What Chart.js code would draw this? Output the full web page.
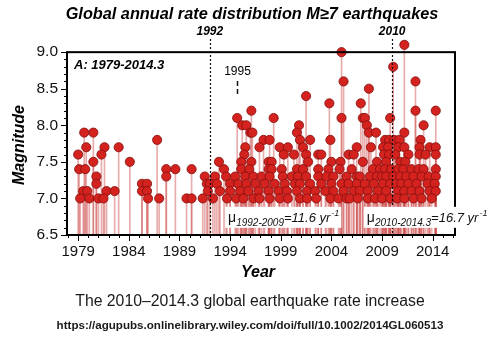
<!DOCTYPE html>
<html>
<head>
<meta charset="utf-8">
<script src="https://cdn.jsdelivr.net/npm/chart.js@4.4.0/dist/chart.umd.min.js"></script>
<style>
    html, body { margin: 0; padding: 0; background: #fff; }
    #wrap { width: 500px; height: 337px; }
</style>
</head>
<body>
<div id="wrap"><canvas id="quakeChart" width="500" height="337"></canvas></div>
<script>
// Event years (decimal) for each magnitude level
const m9_1 = [2011.2];
const m9_0 = [2005.0];
const m8_8 = [2010.1];
const m8_6 = [2005.2, 2012.3];
const m8_5 = [2007.7];
const m8_4 = [2001.5];
const m8_3 = [2003.8, 2006.9];
const m8_2 = [1996.1, 2012.3, 2014.3];
const m8_1 = [1994.7, 1998.3, 2005.0, 2007.1, 2007.3, 2009.8];
const m8_0 = [1995.2, 1995.6, 2000.8, 2007.5, 2013.1];
const m7_9 = [1979.6, 1980.5, 1996.0, 1996.2, 2000.6, 2007.7, 2008.4, 2011.2];
const m7_8 = [1986.8, 1997.3, 1997.9, 2000.9, 2001.9, 2003.9, 2009.3, 2009.7, 2010.2, 2010.7, 2012.8];
const m7_7 = [1979.8, 1981.6, 1983.0, 1995.5, 1996.9, 1998.9, 1999.7, 2001.2, 2006.5, 2007.9,
              2009.1, 2009.6, 2010.6, 2011.2, 2012.7, 2013.7, 2014.3];
const m7_6 = [1979.0, 1981.3, 1995.4, 1999.3, 2000.3, 2001.5, 2002.7, 2003.0, 2005.7, 2006.2,
              2009.2, 2009.7, 2010.3, 2011.6, 2012.7, 2013.3, 2014.3];
const m7_5 = [1980.5, 1984.1, 1992.9, 1995.1, 1996.1, 1997.8, 1998.1, 2001.7, 2004.0, 2004.9,
              2007.1, 2008.5, 2009.4, 2010.8, 2011.3];
const m7_4 = [1979.1, 1979.7, 1987.7, 1988.6, 1990.2, 1993.4, 1995.1, 1995.9, 1997.8, 1998.1,
              1999.1, 2000.6, 2001.2, 2002.7, 2003.7, 2004.8, 2006.0, 2008.1, 2008.8, 2009.3,
              2009.9, 2010.6, 2011.1, 2011.9, 2012.6, 2013.1, 2014.3];
const m7_3 = [1980.8, 1987.7, 1991.5, 1992.5, 1993.6, 1994.5, 1995.5, 1996.3, 1997.1, 1997.9,
              1999.2, 2000.1, 2000.7, 2001.5, 2002.7, 2003.5, 2004.2, 2005.5, 2006.5, 2006.8,
              2007.8, 2008.5, 2009.0, 2009.4, 2010.1, 2010.8, 2011.4, 2012.1, 2012.9, 2013.6, 2014.3];
const m7_2 = [1980.8, 1985.3, 1985.8, 1991.7, 1992.0, 1992.7, 1994.0, 1994.8, 1995.6, 1996.5,
              1997.4, 1998.4, 1999.4, 2000.4, 2000.9, 2001.9, 2003.0, 2004.0, 2005.0, 2005.7,
              2006.5, 2007.3, 2008.2, 2009.1, 2009.8, 2010.4, 2010.9, 2011.6, 2012.4, 2013.5, 2014.2];
const m7_1 = [1979.5, 1979.9, 1981.8, 1982.6, 1985.3, 1985.8, 1991.8, 1993.0, 1994.0, 1995.0,
              1995.8, 1996.8, 1997.8, 1998.8, 1999.6, 2000.6, 2001.6, 2002.4, 2003.4, 2004.2,
              2005.2, 2006.2, 2006.8, 2007.6, 2008.6, 2009.4, 2010.6, 2011.2, 2011.9, 2012.7,
              2013.7, 2014.3];
const m7_0 = [1979.2, 1980.1, 1981.0, 1981.5, 1985.9, 1987.0, 1989.7, 1990.2, 1991.3, 1992.3,
              1993.7, 1994.6, 1995.3, 1996.3, 1996.9, 1997.9, 1998.9, 1999.7, 2000.9, 2001.6,
              2002.5, 2003.9, 2004.7, 2005.5, 2005.8, 2006.6, 2007.6, 2008.3, 2009.0, 2009.8,
              2010.5, 2011.2, 2012.1, 2012.9, 2013.9];

const magLevels = [9.1, 9.0, 8.8, 8.6, 8.5, 8.4, 8.3, 8.2, 8.1, 8.0, 7.9, 7.8, 7.7, 7.6, 7.5, 7.4, 7.3, 7.2, 7.1, 7.0];
const yearsByLevel = [m9_1, m9_0, m8_8, m8_6, m8_5, m8_4, m8_3, m8_2, m8_1, m8_0, m7_9, m7_8,
                      m7_7, m7_6, m7_5, m7_4, m7_3, m7_2, m7_1, m7_0];

const xTickYears = [1979, 1984, 1989, 1994, 1999, 2004, 2009, 2014];
const yTickMags = [6.5, 7.0, 7.5, 8.0, 8.5, 9.0];
const markerYears = [1992, 2010];
const rateLabels = [
    { from: 1993.8, sub: '1992-2009', value: '=11.6 yr' },
    { from: 2007.5, sub: '2010-2014.3', value: '=16.7 yr' }
];

const quakes = [];
magLevels.forEach((mag, i) => {
    yearsByLevel[i].forEach(yr => quakes.push({ x: yr, y: mag }));
});

const FONT = '"Liberation Sans", Arial, Helvetica, sans-serif';

const decorPlugin = {
    id: 'decor',
    afterDatasetsDraw(chart) {
        const ctx = chart.ctx;
        const x = chart.scales.x;
        const y = chart.scales.y;
        const a = chart.chartArea;
        const top = y.getPixelForValue(9.0);
        ctx.save();

        // dotted lines for 1992 and 2010
        ctx.strokeStyle = '#111';
        ctx.lineWidth = 1.2;
        ctx.setLineDash([2, 2]);
        markerYears.forEach(yr => {
            const px = Math.round(x.getPixelForValue(yr)) + 0.5;
            ctx.beginPath();
            ctx.moveTo(px, 39);
            ctx.lineTo(px, a.bottom);
            ctx.stroke();
        });

        // 1995 marker
        const p95 = Math.round(x.getPixelForValue(1994.7)) + 0.5;
        ctx.setLineDash([5, 3]);
        ctx.lineWidth = 1.5;
        ctx.beginPath();
        ctx.moveTo(p95, 81);
        ctx.lineTo(p95, 97);
        ctx.stroke();
        ctx.setLineDash([]);

        // frame
        ctx.lineWidth = 2;
        ctx.strokeStyle = '#000';
        ctx.strokeRect(a.left, top, a.right - a.left, a.bottom - top);

        // tick marks
        ctx.lineWidth = 1;
        for (let m = 65; m <= 90; m++) {
            const py = Math.round(y.getPixelForValue(m / 10)) + 0.5;
            const len = m % 5 === 0 ? 6 : 3;
            ctx.beginPath();
            ctx.moveTo(a.left - len, py);
            ctx.lineTo(a.left, py);
            ctx.stroke();
        }
        for (let yr = 1978; yr <= 2016; yr++) {
            const px = Math.round(x.getPixelForValue(yr)) + 0.5;
            const len = xTickYears.includes(yr) ? 6 : 3;
            ctx.beginPath();
            ctx.moveTo(px, a.bottom);
            ctx.lineTo(px, a.bottom + len);
            ctx.stroke();
        }

        // rate labels
        rateLabels.forEach(lab => {
            const px = x.getPixelForValue(lab.from);
            const base = y.getPixelForValue(6.68);
            ctx.font = '14px ' + FONT;
            const w1 = ctx.measureText('μ').width;
            ctx.font = 'italic 10px ' + FONT;
            const w2 = ctx.measureText(lab.sub).width;
            ctx.font = 'italic 13px ' + FONT;
            const w3 = ctx.measureText(lab.value).width;
            ctx.font = 'italic 9px ' + FONT;
            const w4 = ctx.measureText('-1').width;
            ctx.fillStyle = '#fff';
            ctx.fillRect(px - 3, base - 15, w1 + w2 + w3 + w4 + 6, 21);
            ctx.fillStyle = '#111';
            ctx.textBaseline = 'alphabetic';
            ctx.textAlign = 'left';
            let cx = px;
            ctx.font = '14px ' + FONT;
            ctx.fillText('μ', cx, base);
            cx += w1;
            ctx.font = 'italic 10px ' + FONT;
            ctx.fillText(lab.sub, cx, base + 4);
            cx += w2;
            ctx.font = 'italic 13px ' + FONT;
            ctx.fillText(lab.value, cx, base);
            cx += w3;
            ctx.font = 'italic 9px ' + FONT;
            ctx.fillText('-1', cx + 1, base - 6);
        });

        // texts
        ctx.fillStyle = '#000';
        ctx.textAlign = 'center';
        ctx.textBaseline = 'middle';
        ctx.font = 'italic bold 16.3px ' + FONT;
        ctx.fillText('Global annual rate distribution M≥7 earthquakes', 252, 15);
        ctx.font = 'italic bold 12px ' + FONT;
        markerYears.forEach(yr => ctx.fillText(String(yr), x.getPixelForValue(yr), 32));
        ctx.font = '12px ' + FONT;
        ctx.fillText('1995', p95, 72);
        ctx.textAlign = 'left';
        ctx.font = 'italic bold 13px ' + FONT;
        ctx.fillText('A: 1979-2014.3', 74, 65);
        ctx.textAlign = 'center';
        ctx.font = 'italic bold 16px ' + FONT;
        ctx.fillText('Year', 258, 273);
        ctx.save();
        ctx.translate(20, 145);
        ctx.rotate(-Math.PI / 2);
        ctx.fillText('Magnitude', 0, 0);
        ctx.restore();
        ctx.fillStyle = '#1a1a1a';
        ctx.font = '15.8px ' + FONT;
        ctx.fillText('The 2010\u20132014.3 global earthquake rate increase', 250, 302);
        ctx.font = 'bold 11.6px ' + FONT;
        ctx.fillText('https://agupubs.onlinelibrary.wiley.com/doi/full/10.1002/2014GL060513', 250, 326);
        ctx.restore();
    }
};

const ctx = document.getElementById('quakeChart').getContext('2d');
new Chart(ctx, {
    type: 'scatter',
    data: {
        datasets: [{
            type: 'scatter',
            label: 'M>=7',
            data: quakes,
            order: 0,
            clip: false,
            pointRadius: 4.6,
            pointBackgroundColor: 'rgb(212, 34, 30)',
            pointBorderColor: 'rgb(130, 15, 12)',
            pointBorderWidth: 0.8
        }, {
            type: 'bar',
            label: 'stems',
            data: quakes.map(q => ({ x: q.x, y: [6.5, q.y] })),
            order: 1,
            barThickness: 1,
            grouped: false,
            backgroundColor: 'rgba(205, 70, 70, 0.45)',
            borderWidth: 0
        }]
    },
    options: {
        responsive: false,
        animation: false,
        events: [],
        layout: { padding: { left: 0, top: 39, right: 45, bottom: 0 } },
        plugins: {
            legend: { display: false },
            tooltip: { enabled: false },
            title: { display: false }
        },
        scales: {
            x: {
                type: 'linear',
                min: 1977.9,
                max: 2016.2,
                offset: false,
                grid: { display: false, drawTicks: false },
                border: { display: false },
                afterFit: (scale) => { scale.height = 102; },
                afterBuildTicks: (scale) => { scale.ticks = xTickYears.map(v => ({ value: v })); },
                ticks: {
                    color: '#111',
                    padding: 8,
                    maxRotation: 0,
                    autoSkip: false,
                    font: { family: FONT, size: 15 },
                    callback: (v) => String(v)
                }
            },
            y: {
                type: 'linear',
                min: 6.5,
                max: 9.18,
                grid: { display: false, drawTicks: false },
                border: { display: false },
                afterFit: (scale) => { scale.width = 67; },
                afterBuildTicks: (scale) => { scale.ticks = yTickMags.map(v => ({ value: v })); },
                ticks: {
                    color: '#111',
                    padding: 9,
                    font: { family: FONT, size: 15.5 },
                    callback: (v) => Number(v).toFixed(1)
                }
            }
        }
    },
    plugins: [decorPlugin]
});
</script>
</body>
</html>
